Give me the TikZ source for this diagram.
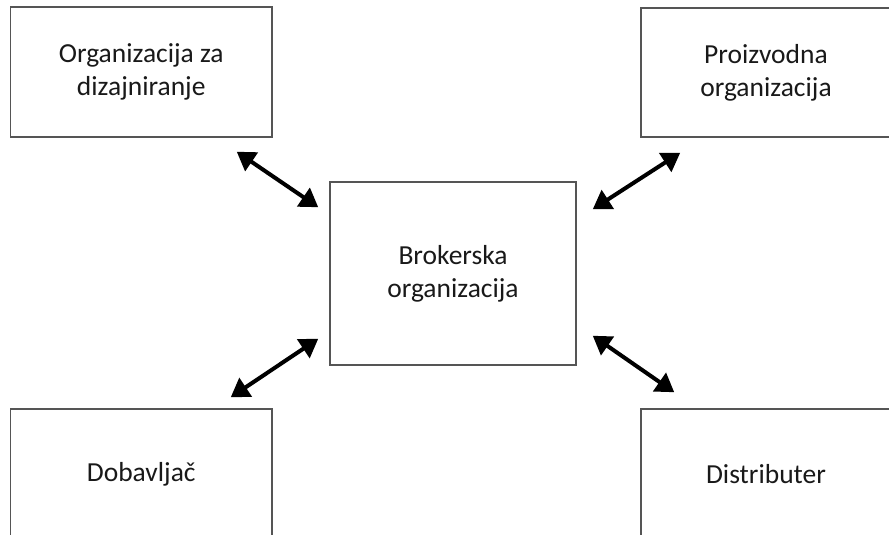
\documentclass[tikz,border=0pt]{standalone}
\usepackage{fontspec}
\setmainfont{Carlito}
\usetikzlibrary{arrows.meta}
\definecolor{boxcol}{RGB}{85,85,85}
\definecolor{txtcol}{RGB}{25,25,25}
\tikzset{every picture/.style={x=1pt,y=1pt}}
\tikzset{unit/.style={rectangle,draw=boxcol,line width=1.5pt,text=txtcol,align=center,font=\fontsize{27.5}{33}\selectfont}}
\tikzset{link/.style={line width=4pt,{Triangle[length=18pt,width=22pt]}-{Triangle[length=18pt,width=22pt]}}}

\begin{document}
\begin{tikzpicture}
\useasboundingbox (0,0) rectangle (889,535);
\node [unit,minimum width=261.5,minimum height=130] (dizajn) at (141.25,463) {Organizacija za\\dizajniranje};
\node [unit,minimum width=250,minimum height=129] (proizv) at (766,462.5) {Proizvodna\\organizacija};
\node [unit,minimum width=246,minimum height=183] (broker) at (453,261.5) {Brokerska\\organizacija};
\node [unit,minimum width=261.5,minimum height=131] (dobav) at (141.25,60.5) {Dobavljač};
\node [unit,minimum width=250,minimum height=131] (distrib) at (766,60.5) {Distributer};

\draw [link] ([shift={(-36,-14)}]dizajn.south east) -- ([shift={(-11,-26)}]broker.north west);
\draw [link] ([shift={(40,-15)}]proizv.south west) -- ([shift={(16,-28)}]broker.north east);
\draw [link] ([shift={(-11,27)}]broker.south west) -- ([shift={(-42,11)}]dobav.north east);
\draw [link] ([shift={(16,30)}]broker.south east) -- ([shift={(34,16)}]distrib.north west);
\end{tikzpicture}
\end{document}
